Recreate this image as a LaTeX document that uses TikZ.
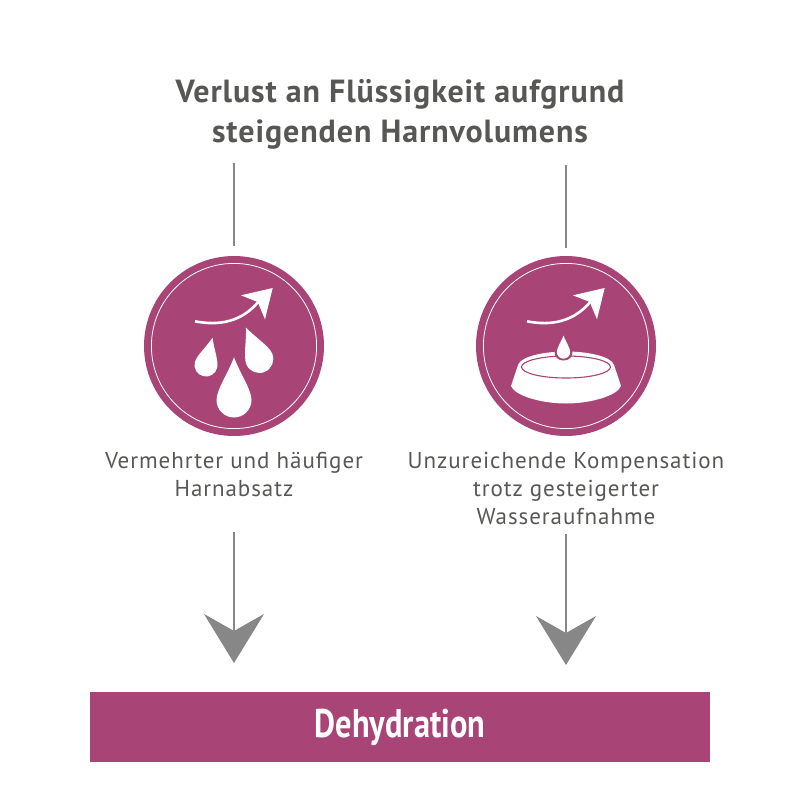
\documentclass[tikz,border=0pt]{standalone}
\usepackage{fontspec}
\usepackage{graphicx}
\setmainfont{PT Sans}
\usetikzlibrary{arrows.meta}
\definecolor{berry}{HTML}{A84476}
\definecolor{stemgray}{HTML}{878787}
\definecolor{inkgray}{HTML}{575756}
\tikzset{
  badge/.style={circle,fill=berry,minimum size=180pt,inner sep=0pt,outer sep=0pt},
  ring/.style={draw=white,line width=0.8pt},
  caption/.style={text=inkgray,align=center,inner sep=0pt,font=\fontsize{23}{28}\selectfont\addfontfeature{LetterSpace=4.1}},
  stem/.style={draw=stemgray,line width=1.5pt},
  pointer/.style={stem,-{Stealth[length=49pt,width=60pt,inset=17pt,fill=stemgray]}},
  pics/waterdrop/.style={code={
    \fill[white] (0,-2.45) .. controls (-.25,-1.7) and (-1,-.6) .. (-1,0)
      .. controls (-1,.55) and (-.55,1) .. (0,1)
      .. controls (.55,1) and (1,.55) .. (1,0)
      .. controls (1,-.6) and (.25,-1.7) .. cycle;
  }},
  pics/risearrow/.style={code={
    \draw[white,line width=2.6pt] (-39,-24.7) .. controls (-15,-20) and (8,-24) .. (25,-45);
    \fill[white] (38.7,-58) -- (7,-50.7) -- (23.7,-44) -- (31,-26.7) -- cycle;
  }}
}
\begin{document}
\begin{tikzpicture}[x=1pt,y=-1pt]
  \useasboundingbox (0,0) rectangle (800,800);
  \node[inner sep=0pt,text=inkgray,align=center,font=\fontsize{32}{40}\selectfont\bfseries\addfontfeature{LetterSpace=2.9}] (title) at (400,114)
    {Verlust an Flüssigkeit aufgrund\\steigenden Harnvolumens};
  \node[badge] (dropbadge) at (234,346) {};
  \node[badge] (bowlbadge) at (566,346) {};
  \draw[ring] (dropbadge) circle (82.6);
  \draw[ring] (bowlbadge) circle (82.6);
  % left icon
  \pic at (234,346) {risearrow};
  \pic[rotate=-13.5,scale=11.5] at (206,365) {waterdrop};
  \pic[rotate=23,scale=14] at (259.3,359) {waterdrop};
  \pic[scale=17.5] at (234,400) {waterdrop};
  % right icon
  \pic at (566,346) {risearrow};
  \fill[white] (511,386) -- (518,365) .. controls (521,356) and (545,351.5) .. (566,351.5)
    .. controls (587,351.5) and (611,356) .. (614,365) -- (621,386)
    .. controls (617,396) and (590,403.5) .. (566,403.5)
    .. controls (542,403.5) and (515,396) .. (511,386) -- cycle;
  \draw[berry,line width=1.1pt] (566,367) ellipse (44.5 and 11);
  \fill[berry] (563.5,333) .. controls (562,340) and (554.5,345) .. (554.5,352)
    .. controls (554.5,357) and (558,360.5) .. (563.5,360.5)
    .. controls (569,360.5) and (572.5,357) .. (572.5,352)
    .. controls (572.5,345) and (565,340) .. cycle;
  \pic[scale=6.7] at (563.5,352) {waterdrop};
  \node[caption] (harnlabel) at (234,475) {Vermehrter und häufiger\\Harnabsatz};
  \node[caption] (kompenslabel) at (566,488) {Unzureichende Kompensation\\trotz gesteigerter\\Wasseraufnahme};
  \node[fill=berry,minimum width=620pt,minimum height=70pt,inner sep=0pt,outer sep=0pt,text=white,font=\fontsize{40}{40}\selectfont\bfseries] (bar) at (400,727)
    {\scalebox{0.81}[1]{Dehydration}};
  \draw[stem,shorten >=10pt] (title.south -| dropbadge) ++(0,14) -- (dropbadge.north);
  \draw[stem,shorten >=8pt] (title.south -| bowlbadge) ++(0,16) -- (bowlbadge.north);
  \draw[pointer,shorten >=29pt] (harnlabel.south -| dropbadge) ++(0,35) -- (bar.north -| dropbadge);
  \draw[pointer,shorten >=27pt] (kompenslabel.south -| bowlbadge) ++(0,10) -- (bar.north -| bowlbadge);
\end{tikzpicture}
\end{document}
